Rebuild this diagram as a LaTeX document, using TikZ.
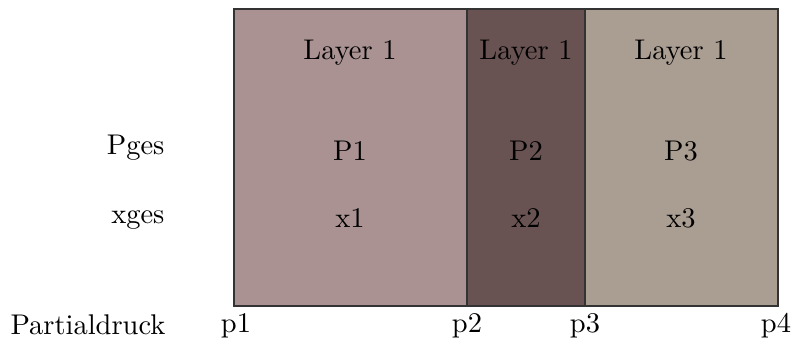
\documentclass[tikz,border=0pt]{standalone}
\definecolor{paneA}{RGB}{170,146,146}
\definecolor{paneB}{RGB}{105,82,82}
\definecolor{paneC}{RGB}{170,157,146}
\begin{document}
\begin{tikzpicture}[x=0.351pt,y=-0.351pt,
  pane/.style={draw=black!80,line width=0.4pt},
  lbl/.style={inner sep=0pt,anchor=center}]
\useasboundingbox (0,0) rectangle (791,343);
% three layers
\filldraw[pane,fill=paneA] (234,9) rectangle (467,306);
\filldraw[pane,fill=paneB] (467,9) rectangle (585,306);
\filldraw[pane,fill=paneC] (585,9) rectangle (778,306);
% layer captions
\node[lbl] (l1) at (350,53) {Layer 1};
\node[lbl] (l2) at (526,53) {Layer 1};
\node[lbl] (l3) at (681,53) {Layer 1};
% pressures
\node[lbl] (P1) at (350,151) {P1};
\node[lbl] (P2) at (526,151) {P2};
\node[lbl] (P3) at (681,151) {P3};
% mole fractions
\node[lbl] (x1) at (350,218) {x1};
\node[lbl] (x2) at (526,218) {x2};
\node[lbl] (x3) at (681,218) {x3};
% row headers
\node[inner sep=0pt,anchor=east] (Pges) at (165,148) {Pges};
\node[inner sep=0pt,anchor=east] (xges) at (165,220) {xges};
\node[lbl] (pd) at (88,325) {Partialdruck};
% boundary partial pressures
\node[lbl] (p1) at (236,326) {p1};
\node[lbl] (p2) at (467,326) {p2};
\node[lbl] (p3) at (585,326) {p3};
\node[lbl] (p4) at (776,326) {p4};
\end{tikzpicture}
\end{document}
